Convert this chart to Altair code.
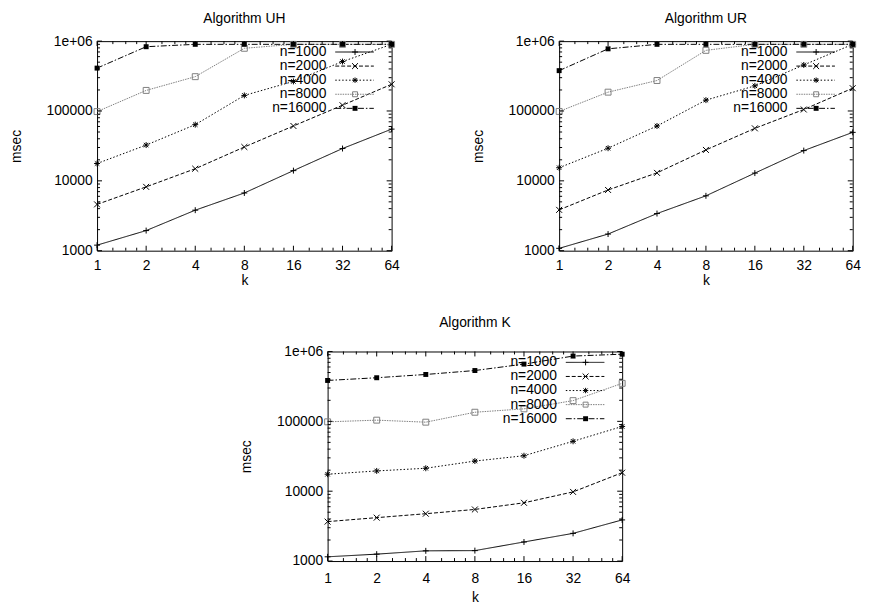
import altair as alt
import pandas as pd

# ---------------- data ----------------
k_values = [1, 2, 4, 8, 16, 32, 64]
series = ["n=1000", "n=2000", "n=4000", "n=8000", "n=16000"]

uh_1000 = [1200, 1940, 3800, 6700, 14000, 29000, 55000]
uh_2000 = [4600, 8200, 14900, 30500, 61000, 121000, 241000]
uh_4000 = [17700, 32500, 63700, 167000, 265000, 510000, 900000]
uh_8000 = [98000, 197000, 310000, 790000, 900000, 900000, 900000]
uh_16000 = [411000, 832000, 900000, 900000, 900000, 900000, 900000]

ur_1000 = [1080, 1730, 3400, 6100, 12900, 27100, 49400]
ur_2000 = [3840, 7400, 13000, 27700, 56400, 105000, 212000]
ur_4000 = [15400, 29300, 61000, 143000, 229000, 456000, 900000]
ur_8000 = [98500, 186000, 273000, 738000, 900000, 900000, 900000]
ur_16000 = [378000, 776000, 900000, 900000, 900000, 900000, 900000]

kk_1000 = [1150, 1255, 1400, 1410, 1875, 2490, 3880]
kk_2000 = [3670, 4180, 4760, 5480, 6820, 9770, 18400]
kk_4000 = [17500, 19500, 21300, 27000, 32200, 51800, 84500]
kk_8000 = [98400, 104000, 97300, 135000, 151000, 198000, 350000]
kk_16000 = [385000, 421000, 469000, 534000, 660000, 860000, 915000]

y_major = [1000, 10000, 100000, 1000000]
y_minor = [2000, 3000, 4000, 5000, 6000, 7000, 8000, 9000,
           20000, 30000, 40000, 50000, 60000, 70000, 80000, 90000,
           200000, 300000, 400000, 500000, 600000, 700000, 800000, 900000]
x_major = [1, 2, 4, 8, 16, 32, 64]
x_minor = [1.25, 1.5, 1.75, 2.5, 3, 3.5, 5, 6, 7, 10, 12, 14,
           20, 24, 28, 40, 48, 56]

# ---------------- style ----------------
FONT = "Liberation Sans"
FS = 14
H = 212
PLUS = "M-1,0L1,0M0,-1L0,1"
CROSS = "M-1,-1L1,1M-1,1L1,-1"
STAR = "M-1,0L1,0M0,-1L0,1M-0.75,-0.75L0.75,0.75M-0.75,0.75L0.75,-0.75"
shapes = [PLUS, CROSS, STAR, "square", "square"]
sizes = [36, 36, 30, 25, 25]
colors = ["black", "black", "black", "#808080", "black"]
dashes = [[1, 0], [4, 2], [1.5, 2], [1.5, 1], [6, 2, 1.5, 2]]

yscale = alt.Scale(type="log", domain=[1000, 1000000], nice=False)
xscale = alt.Scale(type="log", base=2, domain=[1, 64], nice=False)


def make_axes(label_pad, x_title_pad):
    xaxis = alt.Axis(values=x_major, format="d", title="k", ticks=False, tickSize=0,
                     domain=False, grid=False, labelFont=FONT, labelFontSize=FS,
                     labelColor="black", labelPadding=label_pad, titleFont=FONT,
                     titleFontSize=FS, titleFontWeight="normal", titleColor="black",
                     titlePadding=x_title_pad, labelFlush=False)
    yaxis = alt.Axis(values=y_major, title="msec", ticks=False, tickSize=0,
                     domain=False, grid=False, labelFont=FONT, labelFontSize=FS,
                     labelColor="black", labelPadding=5, titleFont=FONT,
                     titleFontSize=FS, titleFontWeight="normal", titleColor="black",
                     titlePadding=23, labelFlush=False,
                     labelExpr="datum.value >= 1000000 ? '1e+06' : format(datum.value, 'd')")
    return (alt.X("k:Q", scale=xscale, axis=xaxis),
            alt.Y("msec:Q", scale=yscale, axis=yaxis))


def panel(title, vals, W, title_y, label_pad, x_title_pad):
    X, Y = make_axes(label_pad, x_title_pad)
    rows = []
    for name, v in zip(series, vals):
        for kv, m in zip(k_values, v):
            rows.append({"k": kv, "msec": m, "n": name})
    df = pd.DataFrame(rows)
    base = alt.Chart(df)
    col = alt.Color("n:N", scale=alt.Scale(domain=series, range=colors), legend=None)

    lines = base.mark_line(strokeWidth=1, clip=True).encode(
        x=X, y=Y, color=col,
        strokeDash=alt.StrokeDash("n:N", scale=alt.Scale(domain=series, range=dashes), legend=None),
    )
    pts = base.transform_filter("datum.n != 'n=16000'").mark_point(
        filled=False, strokeWidth=1, opacity=1).encode(
        x=X, y=Y, color=col,
        shape=alt.Shape("n:N", scale=alt.Scale(domain=series, range=shapes), legend=None),
        size=alt.Size("n:N", scale=alt.Scale(domain=series, range=sizes), legend=None),
    )
    pts_fill = base.transform_filter("datum.n == 'n=16000'").mark_point(
        filled=True, shape="square", size=25, color="black", opacity=1).encode(x=X, y=Y)

    ymaj = pd.DataFrame({"msec": y_major})
    ymin = pd.DataFrame({"msec": y_minor})
    xmaj = pd.DataFrame({"k": x_major})
    xmin = pd.DataFrame({"k": x_minor})
    ticks = []
    for d, ln in ((ymaj, 5), (ymin, 3)):
        ticks.append(alt.Chart(d).mark_rule(color="black", strokeWidth=1).encode(
            y=Y, x=alt.value(0), x2=alt.value(ln)))
        ticks.append(alt.Chart(d).mark_rule(color="black", strokeWidth=1).encode(
            y=Y, x=alt.value(W - ln), x2=alt.value(W)))
    for d, ln in ((xmaj, 5), (xmin, 3)):
        ticks.append(alt.Chart(d).mark_rule(color="black", strokeWidth=1).encode(
            x=X, y=alt.value(H), y2=alt.value(H - ln)))
        ticks.append(alt.Chart(d).mark_rule(color="black", strokeWidth=1).encode(
            x=X, y=alt.value(0), y2=alt.value(ln)))

    legend = []
    for i, name in enumerate(series):
        yy = 11 + 14.25 * i
        ld = pd.DataFrame({"label": [name]})
        legend.append(alt.Chart(ld).mark_text(
            align="right", baseline="middle", font=FONT, fontSize=FS, color="black").encode(
            text="label:N", x=alt.value(W - 66), y=alt.value(yy)))
        legend.append(alt.Chart(ld).mark_rule(
            strokeWidth=1, color=colors[i], strokeDash=dashes[i]).encode(
            x=alt.value(W - 57), x2=alt.value(W - 18), y=alt.value(yy)))
        if name == "n=16000":
            legend.append(alt.Chart(ld).mark_point(
                filled=True, shape="square", size=25, color="black", opacity=1).encode(
                x=alt.value(W - 37), y=alt.value(yy)))
        else:
            legend.append(alt.Chart(ld).mark_point(
                filled=False, shape=shapes[i], size=sizes[i], color=colors[i],
                strokeWidth=1, opacity=1).encode(
                x=alt.value(W - 37), y=alt.value(yy)))

    head = alt.Chart(pd.DataFrame({"t": [title]})).mark_text(
        align="center", baseline="middle", font=FONT, fontSize=FS, color="black").encode(
        text="t:N", x=alt.value(W / 2), y=alt.value(title_y))

    return alt.layer(lines, pts, pts_fill, *ticks, *legend, head).properties(
        width=W, height=H)


uh = panel("Algorithm UH", [uh_1000, uh_2000, uh_4000, uh_8000, uh_16000], 298, -22, 8, 1)
ur = panel("Algorithm UR", [ur_1000, ur_2000, ur_4000, ur_8000, ur_16000], 297, -22, 8, 1)
kk = panel("Algorithm K", [kk_1000, kk_2000, kk_4000, kk_8000, kk_16000], 298, -28.3, 11, 5)

top = alt.hconcat(uh, ur, spacing=70.5)
chart = alt.vconcat(top, kk, spacing=28, center=True).properties(
    padding={"left": 0, "top": 0, "right": 0, "bottom": 0}
).configure_view(stroke="black", strokeWidth=1)

chart.save("out.html", embed_options={"renderer": "svg", "actions": False})
